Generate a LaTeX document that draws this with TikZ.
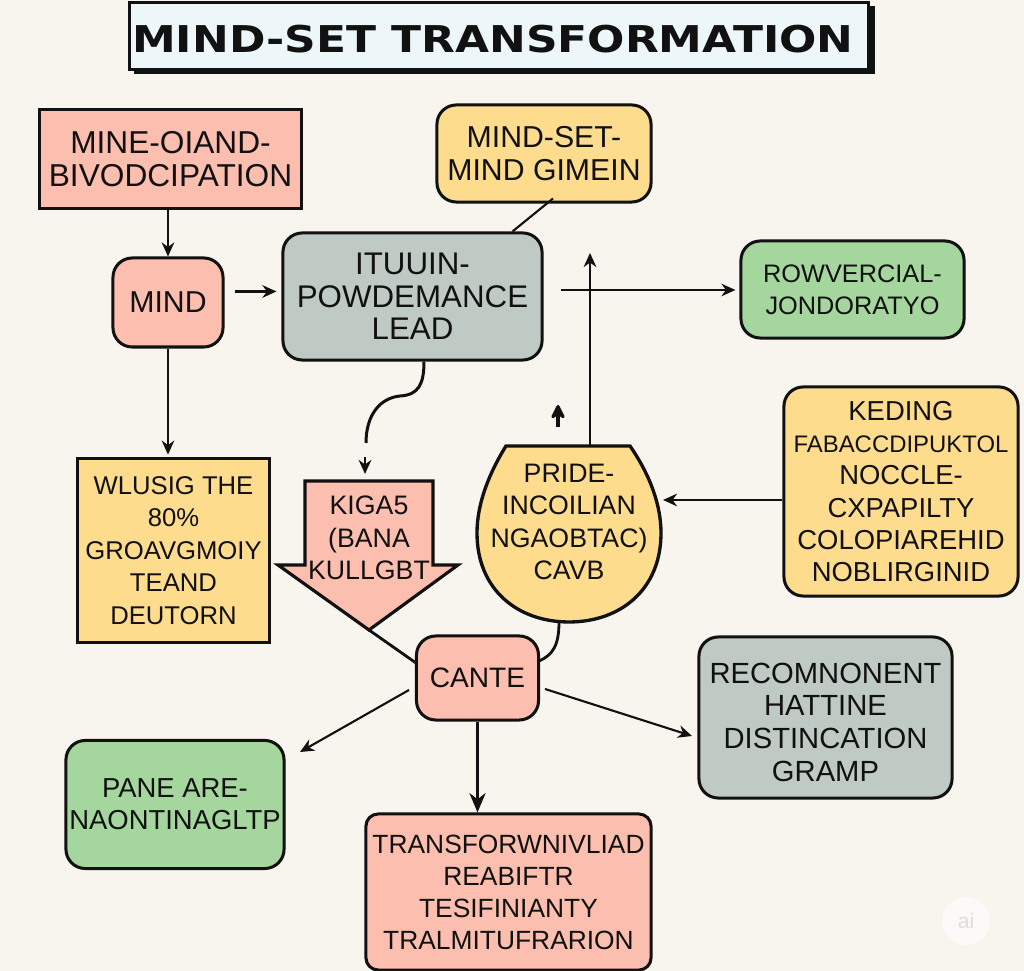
\documentclass[tikz,border=0pt]{standalone}
\usepackage{fontspec}
\usepackage{xcolor}
\setmainfont{Liberation Sans}
\newfontfamily\titlefont[FakeStretch=1.19]{DejaVu Sans}
\usetikzlibrary{arrows.meta}
\definecolor{paperbg}{RGB}{248, 244, 238}
\definecolor{mainsalmon}{RGB}{252, 191, 175}
\definecolor{mainyellow}{RGB}{254, 220, 142}
\definecolor{maingrey}{RGB}{192, 202, 196}
\definecolor{maingreen}{RGB}{165, 214, 158}
\definecolor{titleblue}{RGB}{237, 247, 250}
\definecolor{inkblack}{RGB}{17, 17, 17}
\tikzset{
  sqbox/.style={draw=inkblack, line width=0.86pt, inner sep=0pt, align=center, text=inkblack, font=\fontsize{8.6}{9.2}\selectfont},
  rdbox/.style={sqbox, rounded corners=5.5pt},
  link/.style={draw=inkblack, line width=0.6pt},
  linkarrow/.style={link, -{Stealth[length=4pt,width=3.6pt]}},
}

\begin{document}
\begin{tikzpicture}[x=0.01cm, y=-0.01cm]
  \fill[paperbg] (0,0) rectangle (1024,971);
  \useasboundingbox (0,0) rectangle (1024,971);

  \fill[inkblack] (134,6) rectangle (875,74);
  \node[sqbox, fill=titleblue, minimum width=7.38cm, minimum height=0.67cm, font=\titlefont\bfseries\fontsize{10.5}{12}\selectfont] (title) at (499,36) {\rule{0pt}{9.4pt}MIND-SET TRANSFORMATION\hspace*{3.4pt}};

  \node[sqbox, fill=mainsalmon, minimum width=2.61cm, minimum height=0.98cm, font=\fontsize{9}{9.2}\selectfont] (mine) at (170.5,159) {MINE-OIAND-\\BIVODCIPATION};
  \node[rdbox, fill=mainyellow, minimum width=2.14cm, minimum height=0.97cm] (mindset) at (544,153.5) {MIND-SET-\\MIND GIMEIN};
  \node[rdbox, fill=mainsalmon, minimum width=1.1cm, minimum height=0.89cm] (mind) at (168,302.5) {MIND};
  \node[rdbox, fill=maingrey, minimum width=2.59cm, minimum height=1.27cm, font=\fontsize{8.9}{9.2}\selectfont] (lead) at (412.5,296.5) {ITUUIN-\\POWDEMANCE\\LEAD};
  \node[rdbox, fill=maingreen, minimum width=2.23cm, minimum height=0.97cm, font=\fontsize{7.2}{9.2}\selectfont] (jond) at (852.5,289.5) {ROWVERCIAL-\\JONDORATYO};
  \node[rdbox, fill=mainyellow, minimum width=2.34cm, minimum height=2.09cm, font=\fontsize{7.8}{9.2}\selectfont] (keding) at (901,491.5) {KEDING\\{\fontsize{6.8}{9.2}\selectfont FABACCDIPUKTOL}\\NOCCLE-\\CXPAPILTY\\COLOPIAREHID\\NOBLIRGINID};
  \node[sqbox, fill=mainyellow, minimum width=1.91cm, minimum height=1.83cm, font=\fontsize{7.3}{9.2}\selectfont] (wlusig) at (173.5,550.5) {WLUSIG THE\\80\%\\GROAVGMOIY\\TEAND\\DEUTORN};

  % pride shape and arrow shape
  \draw[draw=inkblack, line width=0.95pt, fill=mainyellow] (506,446) -- (630,446) .. controls (650,475) and (661,505) .. (661,533) .. controls (661,590) and (620,622) .. (569,622) .. controls (518,622) and (477,590) .. (477,533) .. controls (477,505) and (488,475) .. (506,446) -- cycle;
  \node[circle, inner sep=0pt, minimum size=1.84cm, align=center, text=inkblack, font=\fontsize{7.6}{9.2}\selectfont] (pride) at (569,522) {PRIDE-\\INCOILIAN\\NGAOBTAC)\\CAVB};
  \draw[draw=inkblack, line width=0.9pt, fill=mainsalmon, line join=miter] (305,481) -- (433,481) -- (433,565) -- (458,565) -- (369,630) -- (278,565) -- (305,565) -- cycle;
  \node[align=center, inner sep=0pt, text=inkblack, font=\fontsize{7.6}{9.2}\selectfont] (kigas) at (369,538) {KIGA5\\(BANA\\KULLGBT};

  \node[rdbox, fill=mainsalmon, minimum width=1.22cm, minimum height=0.84cm, font=\fontsize{8}{9.2}\selectfont] (cante) at (477.5,678) {CANTE};
  \node[rdbox, fill=maingreen, minimum width=2.18cm, minimum height=1.28cm, font=\fontsize{7.8}{9.2}\selectfont] (pane) at (175,804.5) {PANE ARE-\\NAONTINAGLTP};
  \node[rdbox, fill=maingrey, minimum width=2.53cm, minimum height=1.61cm, font=\fontsize{8.3}{9.3}\selectfont] (recom) at (825.5,717.5) {\rule{0pt}{8.5pt}RECOMNONENT\\HATTINE\\DISTINCATION\\GRAMP};
  \node[rdbox, rounded corners=3.5pt, fill=mainsalmon, minimum width=2.85cm, minimum height=1.56cm, font=\fontsize{7.5}{9.1}\selectfont] (trans) at (508.5,892) {TRANSFORWNIVLIAD\\REABIFTR\\TESIFINIANTY\\TRALMITUFRARION};

  % connectors
  \draw[linkarrow] (mine.south -| mind.north) -- (mind.north);
  \draw[linkarrow] (mind.south) -- ([yshift=0.8pt]wlusig.north -| mind.south);
  \draw[linkarrow] ([shift={(10,-11)}]mind.east) -- ([shift={(-5,-5)}]lead.west);
  \draw[link] ([shift={(9,-5)}]mindset.south) -- ([shift={(100,0)}]lead.north);
  \draw[linkarrow] ([shift={(17,-6.5)}]lead.east) -- ([shift={(-4,0.5)}]jond.west);
  \draw[link, line width=0.85pt] ([shift={(11.5,0)}]lead.south) .. controls (424,385) and (418,395) .. (400,396) .. controls (380,398) and (366,415) .. (366,443);
  \coordinate (kigatop) at (365,457);
  \draw[linkarrow] (kigatop) -- (365,474);
  \coordinate (pridetop) at (558,427);
  \draw[link, line width=0.9pt, -{Stealth[length=5pt,width=5pt,round]}] (pridetop) -- (558,405);
  \coordinate (leadup) at (590,253);
  \draw[linkarrow] (590,446) -- (leadup);
  \draw[linkarrow] (keding.west |- 0,500) -- (663,500);
  \draw[link, line width=0.8pt] (559,622) .. controls (559,645) and (553,655) .. (539,661);
  \draw[link, line width=0.8pt] (369,630) -- (416,663);
  \draw[linkarrow] (409,690) -- (300,752);
  \draw[linkarrow] (545,689) -- (692,736);
  \draw[link, line width=0.85pt, -{Stealth[length=5.5pt,width=4.6pt]}] (cante.south) -- (trans.north -| cante.south);

  % corner mark
  \node[circle, fill=white, fill opacity=0.6, text opacity=0.5, text=black!25, inner sep=0pt, minimum size=0.48cm, font=\fontsize{6}{7}\selectfont] (aimark) at (966,921) {ai};
\end{tikzpicture}
\end{document}
